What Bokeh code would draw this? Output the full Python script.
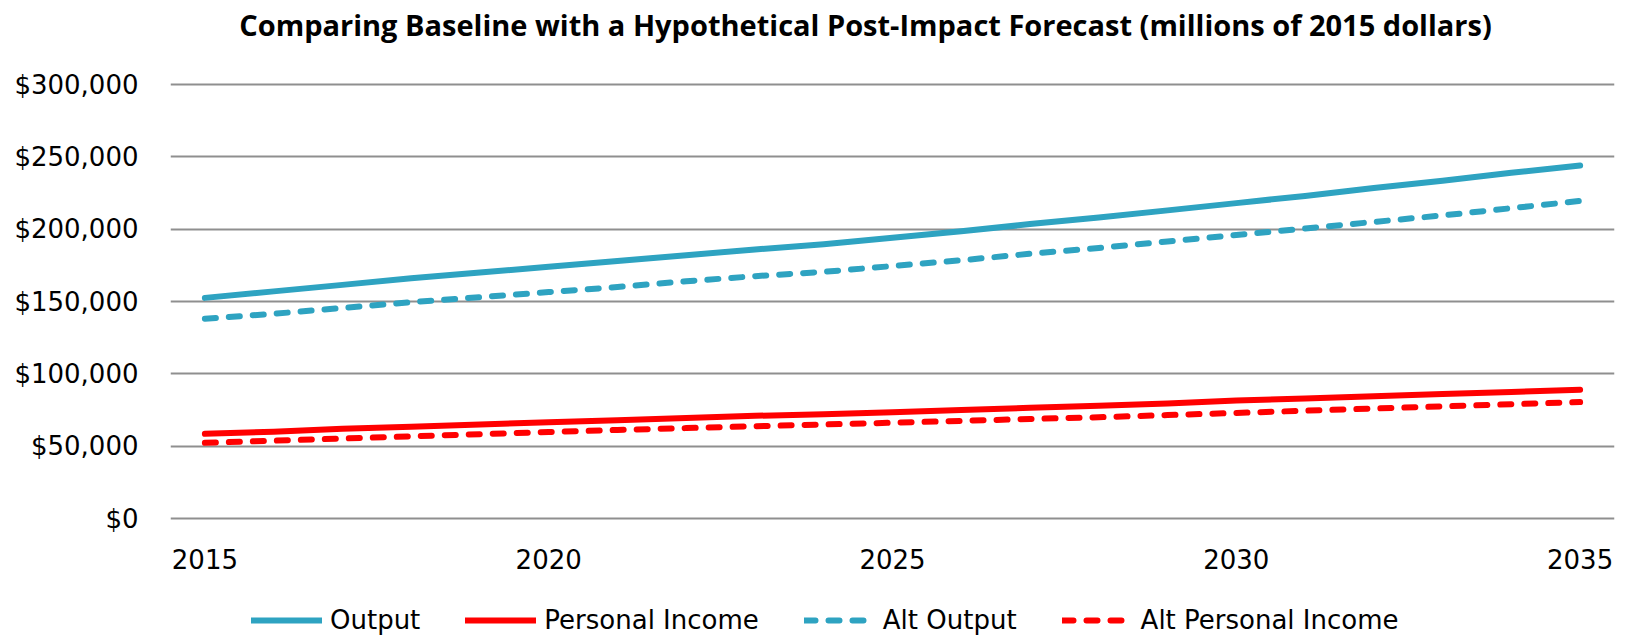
from bokeh.plotting import figure
from bokeh.models import Range1d, FixedTicker, NumeralTickFormatter, Legend, LegendItem, Label
from bokeh.embed import file_html
from bokeh.resources import INLINE

# ---- data (millions of 2015 dollars) ----
years = list(range(2015, 2036))
output = [152500, 157000, 161500, 166000, 170000, 174000, 178000, 182000, 186000, 189500,
          194000, 198500, 203500, 208000, 213000, 218000, 223000, 228500, 233500, 239000, 244000]
personal_income = [58500, 60000, 62000, 63500, 65000, 66500, 68000, 69500, 71000, 72000,
                   73500, 75000, 76500, 78000, 79500, 81500, 83000, 84500, 86000, 87500, 89000]
alt_output = [138000, 141500, 145500, 149500, 153000, 156500, 160000, 164000, 167500, 170500,
              174500, 178500, 183000, 187000, 191500, 196000, 200500, 205000, 209500, 214500, 219500]
alt_personal_income = [52300, 53800, 55300, 56800, 58300, 59800, 61200, 62500, 63800, 65000,
                       66200, 67500, 68800, 70000, 71500, 73000, 74500, 76000, 77500, 79000, 80500]

x_ticks = [2015, 2020, 2025, 2030, 2035]
y_ticks = [0, 50000, 100000, 150000, 200000, 250000, 300000]

series_labels = ["Output", "Personal Income", "Alt Output", "Alt Personal Income"]
title_text = "Comparing Baseline with a Hypothetical Post-Impact Forecast (millions of 2015 dollars)"

BLUE = "#2EA3C1"
RED = "#FF0000"
FONT = "DejaVu Sans"

W, H = 1627, 635
FRAME_LEFT, FRAME_RIGHT_BORDER = 170, 13
Y_ZERO_PX, Y_TOP_PX = 518, 84                 # pixel rows of $0 and $300,000
UNIT_PER_PX = 300000.0 / (Y_ZERO_PX - Y_TOP_PX)

p = figure(width=W, height=H, output_backend="svg", toolbar_location=None,
           x_range=Range1d(2014.5, 2035.5),
           y_range=Range1d(-(H - Y_ZERO_PX) * UNIT_PER_PX, 300000 + Y_TOP_PX * UNIT_PER_PX),
           min_border_left=FRAME_LEFT, min_border_right=FRAME_RIGHT_BORDER,
           min_border_top=0, min_border_bottom=0)

p.outline_line_color = None
p.background_fill_color = "white"
p.border_fill_color = "white"

p.xgrid.visible = False
p.ygrid.grid_line_color = "#8F8F8F"
p.ygrid.grid_line_width = 1.8

p.yaxis.ticker = FixedTicker(ticks=y_ticks)
p.yaxis.formatter = NumeralTickFormatter(format="$0,0")
p.xaxis.ticker = FixedTicker(ticks=x_ticks)
p.xaxis.fixed_location = 0   # category axis sits on the $0 line

for ax in (p.xaxis, p.yaxis):
    ax.axis_line_color = None
    ax.major_tick_line_color = None
    ax.minor_tick_line_color = None
    ax.major_tick_in = 0
    ax.major_tick_out = 0
    ax.minor_tick_in = 0
    ax.minor_tick_out = 0
    ax.major_label_text_font = FONT
    ax.major_label_text_font_size = "26px"
    ax.major_label_text_color = "black"

p.yaxis.major_label_standoff = 32
p.xaxis.major_label_standoff = 30

r1 = p.line(years, output, line_color=BLUE, line_width=6, line_cap="round", line_join="round")
r2 = p.line(years, personal_income, line_color=RED, line_width=6, line_cap="round", line_join="round")
r3 = p.line(years, alt_output, line_color=BLUE, line_width=6, line_cap="round", line_join="round",
            line_dash="11 13")
r4 = p.line(years, alt_personal_income, line_color=RED, line_width=6, line_cap="round", line_join="round",
            line_dash="11 13")

title = Label(x=695, y=H - 24, x_units="screen", y_units="screen", text=title_text,
              text_font="Open Sans", text_font_size="29px", text_font_style="bold",
              text_color="black", text_align="center", text_baseline="middle")
p.add_layout(title)

legend = Legend(items=[LegendItem(label=series_labels[0], renderers=[r1]),
                       LegendItem(label=series_labels[1], renderers=[r2]),
                       LegendItem(label=series_labels[2], renderers=[r3]),
                       LegendItem(label=series_labels[3], renderers=[r4])],
                orientation="horizontal", location=(81, 0),
                glyph_width=71, glyph_height=20, label_standoff=8, spacing=45,
                padding=0, margin=0, border_line_color=None,
                background_fill_color=None, background_fill_alpha=0,
                label_text_font=FONT, label_text_font_size="26px", label_text_color="black")
p.add_layout(legend)

open("out.html", "w").write(file_html(p, INLINE))
